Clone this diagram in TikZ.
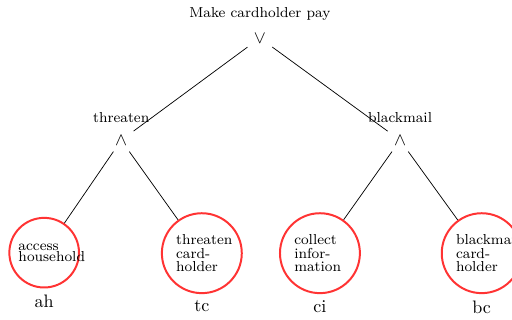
\documentclass[tikz,border=0pt]{standalone}
\usepackage{amsmath}
\usepackage{tikz}
\usetikzlibrary{positioning}

\begin{document}
\begin{tikzpicture}[
        gatenode/.style = {
            inner sep = 3.33pt,
            label distance = 4.5pt
        },
        leafnode/.style = {
            draw = red!80,
            circle,
            line width = 1.1pt,
            text width = 1cm,
            align = left,
            font = \fontsize{8}{7.4}\selectfont,
            inner sep = 3.33pt,
            label distance = 1.5pt
        }
        ]
        \useasboundingbox (0,0) rectangle (9.97,-6.23);
%
        \node[gatenode, label={[font=\footnotesize]above:Make cardholder pay}] (pay) at (5.06,-0.74) {$\vee$};
%
        \node[gatenode, label={[font=\footnotesize]above:threaten}] (thr) at (2.36,-2.73) {$\wedge$};
        \node[gatenode, label={[font=\footnotesize]above:blackmail}] (blk) at (7.79,-2.73) {$\wedge$};
%
        \node[leafnode, font=\fontsize{8}{6}\selectfont, label=below:ah] (ah) at (0.86,-4.92) {access\\household};
        \node[leafnode, label=below:tc] (tc) at (3.93,-4.93) {threaten\\card-\\holder};
%
        \node[leafnode, label=below:ci] (ci) at (6.23,-4.93) {collect\\infor-\\mation};
        \node[leafnode, label=below:bc] (bc) at (9.38,-4.93) {blackmail\\card-\\holder};
%
        \draw (pay) -- (thr);
        \draw (pay) -- (blk);
%
        \draw (thr) -- (ah);
        \draw (thr) -- (tc);
        \draw (blk) -- (ci);
        \draw (blk) -- (bc);
\end{tikzpicture}
\end{document}
